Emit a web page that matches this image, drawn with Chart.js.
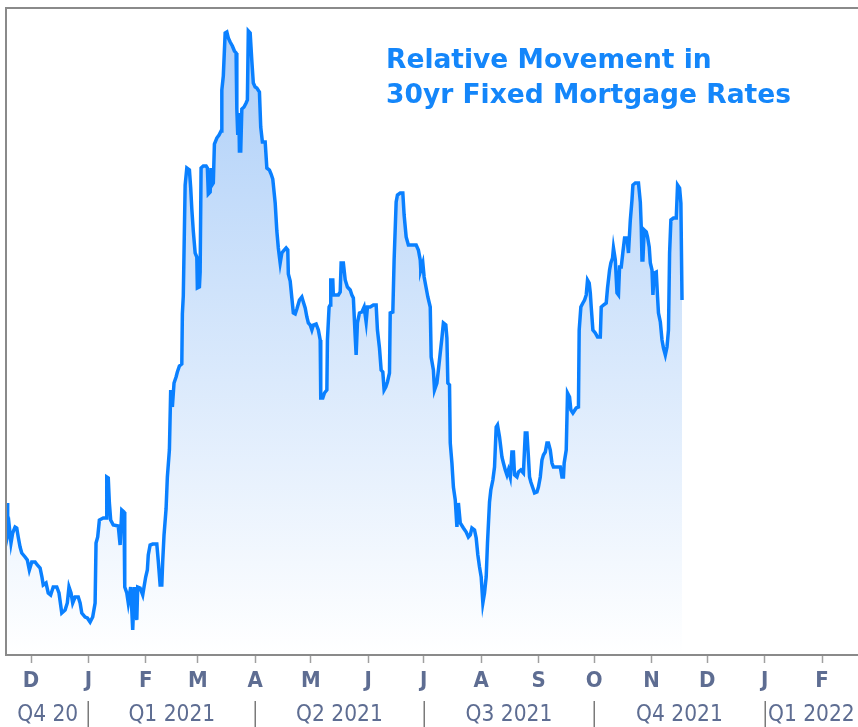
<!DOCTYPE html>
<html>
<head>
<meta charset="utf-8">
<script src="https://cdn.jsdelivr.net/npm/chart.js@4/dist/chart.umd.min.js"></script>
<style>
html,body{margin:0;padding:0;background:#fff;overflow:hidden}
#wrap{width:858px;height:727px;position:relative}
</style>
</head>
<body>
<div id="wrap"><canvas id="c"></canvas></div>
<script>
// Day offsets from 1 Dec 2020
const days = [
-12.8,-12.6,-11.7,-10.8,-9.9,-8.6,-7.7,-6.9,-5.9,-5.0,-3.2,-2.0,-0.9,0.4,2.2,3.4,4.9,5.9,6.6,8.1,
9.3,10.6,12.0,13.9,15.1,16.6,18.4,19.6,20.5,21.6,22.5,23.8,25.5,26.5,27.4,29.2,30.4,31.9,33.3,34.6,
35.1,36.0,36.9,39.0,40.5,40.9,41.7,42.3,43.0,44.4,47.1,48.1,49.0,50.2,50.6,51.7,52.5,53.8,54.9,55.8,
57.1,57.6,58.9,60.3,61.0,61.9,62.8,63.3,64.3,65.7,67.9,68.7,69.7,70.6,71.1,71.8,72.9,73.6,74.7,75.4,
76.3,77.2,78.3,79.0,80.1,81.4,81.7,82.2,83.2,84.1,85.5,86.2,86.8,87.6,88.6,89.5,89.8,90.9,91.3,91.8,
93.0,94.5,95.2,95.7,96.7,97.2,97.7,98.4,99.0,100.3,101.5,102.6,103.0,103.8,104.8,105.7,106.5,107.5,108.7,109.8,
110.7,111.1,111.6,112.2,112.5,113.2,113.8,115.0,116.1,116.8,117.3,118.3,119.2,120.0,121.0,121.9,123.3,124.0,124.9,126.4,
127.3,128.7,129.6,130.5,131.8,132.7,133.5,134.5,135.4,136.2,137.7,138.6,138.9,139.9,140.8,141.6,142.6,143.5,144.9,146.2,
147.0,148.0,148.9,149.7,150.7,151.6,152.4,153.9,155.1,156.1,156.4,157.5,158.4,159.7,160.0,160.9,161.5,161.8,162.9,163.2,
165.9,166.9,167.4,168.6,169.6,170.8,172.3,173.2,174.0,175.0,175.5,176.2,177.3,178.6,179.8,180.9,181.6,183.1,184.8,186.3,
187.0,188.1,189.0,189.9,190.6,191.5,192.4,193.5,193.9,195.3,196.0,197.1,197.8,199.3,200.7,201.4,202.5,203.7,207.9,209.1,
210.1,210.4,211.5,212.2,213.3,214.2,215.5,216.0,217.2,217.8,219.1,219.9,220.9,221.8,222.6,223.9,224.5,225.0,225.9,226.3,
227.2,228.0,229.0,229.9,230.7,231.7,233.4,234.9,236.1,237.1,238.0,239.4,240.3,241.2,242.1,243.0,243.9,244.8,245.7,246.4,
247.5,248.2,249.3,250.2,251.1,251.8,252.9,253.3,254.2,255.0,256.0,256.9,257.7,258.7,259.6,260.4,261.0,262.3,263.1,264.4,
265.8,266.8,267.7,268.5,269.1,269.8,270.9,271.8,273.1,273.9,274.9,275.8,276.6,277.6,278.5,279.3,280.3,281.2,282.0,285.7,
286.6,287.4,287.8,288.9,289.6,290.7,291.4,292.5,294.3,295.5,295.9,296.8,297.9,298.8,299.7,300.4,301.3,301.9,302.4,303.3,
304.6,305.8,307.3,307.8,309.0,310.5,311.2,312.3,313.0,313.9,314.4,315.4,316.3,317.1,317.7,318.6,319.5,320.4,321.7,322.5,
323.5,324.4,324.9,326.2,327.9,328.9,329.4,329.8,330.3,331.0,332.1,332.8,333.7,334.3,335.2,335.7,336.4,337.5,338.2,338.7,
339.7,340.6,341.4,342.4,343.3,344.1,344.7,345.4,346.8,348.3,349.0,350.1,350.8,351.4
];
// Relative movement (basis points above the period low baseline)
const values = [
15.2,12.0,12.8,11.2,12.2,12.8,12.7,11.8,10.8,10.2,9.8,9.5,8.5,9.3,9.3,9.0,8.7,7.8,7.0,7.2,
6.2,6.0,6.8,6.8,6.2,4.2,4.5,5.2,6.8,6.2,5.2,5.8,5.8,5.2,4.2,3.8,3.7,3.3,3.8,5.2,
11.2,11.8,13.5,13.7,13.7,17.8,17.7,15.2,13.5,13.0,12.9,11.0,14.5,14.3,6.8,6.2,5.2,6.8,2.5,6.8,
3.5,6.8,6.7,6.0,6.8,7.8,8.5,10.0,11.0,11.1,11.1,9.4,7.0,7.0,9.4,12.0,14.6,17.8,20.5,26.5,
24.8,27.2,27.8,28.3,28.9,29.1,34.1,35.9,47.0,48.7,48.5,46.7,44.6,42.4,40.2,39.8,36.7,36.8,38.3,48.7,
48.9,48.9,48.7,46.1,46.3,48.7,47.0,47.2,51.1,51.7,52.0,52.4,56.5,57.9,62.2,62.3,61.7,61.3,60.9,60.4,
60.2,54.6,52.0,54.2,50.4,50.4,54.6,54.8,55.2,55.5,62.4,62.2,59.4,57.2,56.8,56.7,56.3,52.8,51.3,51.3,
48.7,48.5,48.1,47.6,45.2,42.4,40.7,39.2,40.2,40.4,40.7,40.5,38.1,37.4,35.7,34.2,34.1,34.6,35.5,35.8,
35.3,34.7,33.8,33.2,33.0,32.5,33.0,33.1,32.5,31.5,25.7,25.7,26.2,26.5,31.5,34.8,35.0,37.5,37.5,36.0,
36.0,36.3,39.2,39.2,37.5,36.8,36.5,36.0,35.7,31.8,30.0,33.2,34.2,34.3,34.8,33.3,34.8,34.8,35.0,35.0,
32.5,30.7,28.5,28.3,26.5,26.8,27.3,28.2,34.2,34.3,39.5,45.3,46.0,46.2,46.2,44.0,41.8,41.0,41.0,40.5,
39.5,38.5,39.2,37.8,36.7,35.8,34.8,29.8,28.5,26.5,27.2,28.5,30.2,31.7,33.2,33.0,31.7,27.2,27.0,21.2,
19.2,16.8,15.5,12.8,15.2,13.2,12.7,12.3,11.8,12.0,12.7,12.5,11.7,10.0,8.8,7.8,5.2,6.2,7.8,11.2,
15.3,16.5,17.5,18.8,22.8,23.0,21.8,21.2,19.8,19.2,18.5,18.0,18.5,17.8,20.3,20.3,18.0,17.8,18.3,18.5,
18.2,22.2,22.2,19.8,17.8,17.3,16.7,16.2,16.3,16.8,17.8,19.5,20.0,20.3,21.2,21.2,20.5,19.2,18.8,18.8,
17.8,17.8,19.2,20.5,26.2,25.8,24.5,24.2,24.7,24.8,32.5,34.8,35.2,35.5,36.0,37.5,37.2,36.2,34.8,32.5,
32.2,31.8,31.8,34.8,35.0,35.2,36.7,38.5,39.2,39.7,40.7,39.5,36.2,36.0,38.8,38.8,40.3,41.7,41.7,40.2,
43.5,45.5,47.0,47.2,47.2,45.3,42.8,39.5,39.5,42.5,42.3,41.8,40.8,39.2,38.5,36.0,38.2,38.3,35.8,34.2,
33.3,31.5,30.7,30.0,30.8,32.5,40.2,43.5,43.7,43.7,47.0,46.7,45.2,35.5
];
const monthTickDays = [0,31,62,90,121,151,182,212,243,274,304,335,365,396,427];
const monthTickLabels = ['D','J','F','M','A','M','J','J','A','S','O','N','D','J','F'];
const quarterStartDays = [-61,31,121,212,304,396,486];
const quarterLabels = ['Q4 20','Q1 2021','Q2 2021','Q3 2021','Q4 2021','Q1 2022'];
const titleLines = ['Relative Movement in','30yr Fixed Mortgage Rates'];

const LINE = '#0a80ff';
const AXIS_TEXT = '#5e6d92';
const FRAME = '#8a8a8a';

const framePlugin = {
  id: 'frame',
  afterDraw(chart) {
    const {ctx, chartArea: ca, scales} = chart;
    ctx.save();
    ctx.strokeStyle = FRAME;
    ctx.lineWidth = 2;
    ctx.beginPath();
    ctx.moveTo(chart.width + 2, ca.top - 1);
    ctx.lineTo(ca.left - 1, ca.top - 1);
    ctx.lineTo(ca.left - 1, ca.bottom + 1);
    ctx.lineTo(chart.width + 2, ca.bottom + 1);
    ctx.stroke();
    // quarter separators
    const q = scales.q, x = scales.x;
    ctx.strokeStyle = '#7a7a7a';
    ctx.lineWidth = 1.5;
    quarterStartDays.forEach(d => {
      if (d <= x.min || d >= x.max) return;
      const px = Math.round(x.getPixelForValue(d)) + 0.25;
      ctx.beginPath();
      ctx.moveTo(px, q.top + 2);
      ctx.lineTo(px, chart.height);
      ctx.stroke();
    });
    // title text
    ctx.fillStyle = '#1486fa';
    ctx.font = 'bold 26.5px "DejaVu Sans", sans-serif';
    ctx.textBaseline = 'alphabetic';
    ctx.textAlign = 'left';
    ctx.fillText(titleLines[0], 386, 68);
    ctx.fillText(titleLines[1], 386, 103);
    ctx.restore();
  }
};

new Chart(document.getElementById('c'), {
  type: 'line',
  data: {
    datasets: [{
      data: days.map((d, i) => ({x: d, y: values[i]})),
      borderColor: LINE,
      borderWidth: 3.5,
      borderJoinStyle: 'miter',
      pointRadius: 0,
      tension: 0,
      fill: 'start',
      backgroundColor: (c) => {
        const ca = c.chart.chartArea;
        if (!ca) return 'rgba(174,208,248,0.5)';
        const g = c.chart.ctx.createLinearGradient(0, ca.top, 0, ca.bottom);
        g.addColorStop(0, '#aacdf8');
        g.addColorStop(1, '#ffffff');
        return g;
      }
    }]
  },
  options: {
    responsive: true,
    maintainAspectRatio: false,
    animation: false,
    layout: {padding: {left: 7, top: 9, right: 0, bottom: 0}},
    plugins: {legend: {display: false}, tooltip: {enabled: false}},
    scales: {
      x: {
        type: 'linear',
        position: 'bottom',
        weight: 0,
        min: -12.96,
        max: 446.4,
        afterBuildTicks: s => { s.ticks = monthTickDays.map(v => ({value: v})); },
        afterFit: s => { s.height = 45; },
        grid: {drawOnChartArea: false, drawTicks: true, tickLength: 9, tickColor: '#a0a0a0', tickWidth: 1.5},
        border: {display: false},
        ticks: {
          autoSkip: false, maxRotation: 0, padding: 5,
          color: AXIS_TEXT,
          font: {family: '"DejaVu Sans Condensed", "DejaVu Sans", sans-serif', size: 22, weight: 'bold'},
          callback: (v, i) => monthTickLabels[i]
        }
      },
      q: {
        type: 'linear',
        position: 'bottom',
        weight: 1,
        min: -12.96,
        max: 446.4,
        afterBuildTicks: s => {
          s.ticks = quarterLabels.map((_, i) => ({
            value: (Math.max(quarterStartDays[i], s.min) + Math.min(quarterStartDays[i + 1], s.max)) / 2
          }));
        },
        afterFit: s => { s.height = 28; },
        grid: {display: false, drawTicks: false},
        border: {display: false},
        ticks: {
          autoSkip: false, maxRotation: 0, padding: 3,
          color: AXIS_TEXT,
          font: {family: '"DejaVu Sans Condensed", "DejaVu Sans", sans-serif', size: 22.5},
          callback: (v, i) => quarterLabels[i]
        }
      },
      y: {display: false, min: 0.1, max: 64.6}
    }
  },
  plugins: [framePlugin]
});
</script>
</body>
</html>
